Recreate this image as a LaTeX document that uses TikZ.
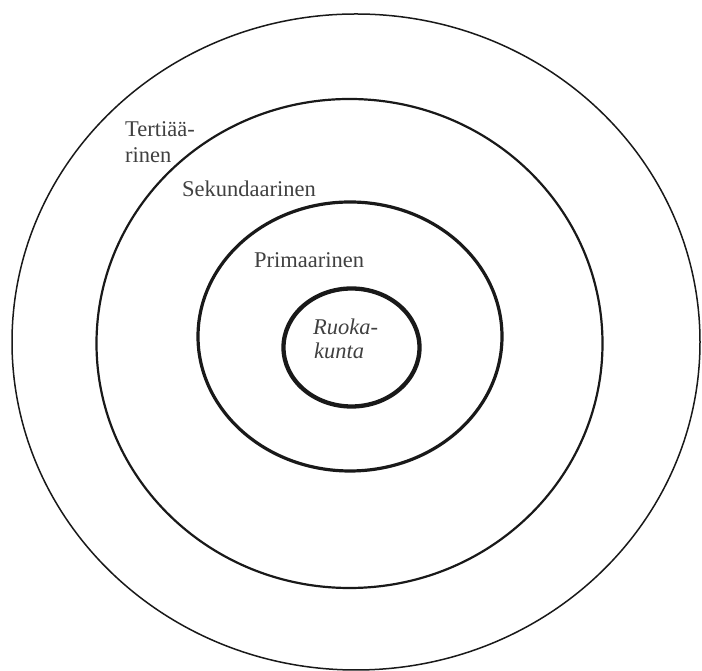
\documentclass[tikz,border=0pt]{standalone}
\usepackage{fontspec}
\setmainfont{Liberation Serif}
\begin{document}
\begin{tikzpicture}[x=1pt,y=1pt,
  lbl/.style={anchor=base west,inner sep=0pt,text=black!75,font=\fontsize{22.5}{26}\selectfont},
  ring/.style={draw=black!90}]
\useasboundingbox (0,0) rectangle (702,671);
% outer
\draw[ring,line width=1.5pt] (356,329) ellipse [x radius=344,y radius=328];
% second
\draw[ring,line width=2.2pt] (349.5,327.5) ellipse [x radius=253,y radius=244.5];
% third
\draw[ring,line width=3.2pt] (350,334.5) ellipse [x radius=152,y radius=134.5];
% inner
\draw[ring,line width=4.3pt] (351.5,323.5) ellipse [x radius=68,y radius=59];
\node[lbl] (t1) at (125,534) {Tertiää-};
\node[lbl] (t2) at (125,508) {rinen};
\node[lbl] (s) at (182,474) {Sekundaarinen};
\node[lbl] (p) at (254,403) {Primaarinen};
\node[lbl,font=\fontsize{22.5}{26}\selectfont\itshape] (r1) at (313,336) {Ruoka-};
\node[lbl,font=\fontsize{22.5}{26}\selectfont\itshape] (r2) at (314,312) {kunta};
\end{tikzpicture}
\end{document}
